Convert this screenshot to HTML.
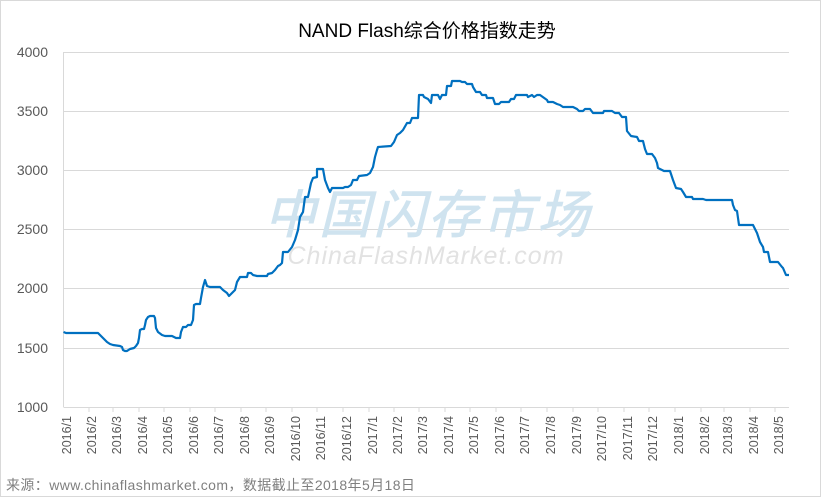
<!DOCTYPE html>
<html><head><meta charset="utf-8"><style>
html,body{margin:0;padding:0;background:#fff}
svg{display:block}
</style></head><body>
<svg width="821" height="497" xmlns="http://www.w3.org/2000/svg" font-family="Liberation Sans, Noto Sans CJK SC, sans-serif">
<rect x="0.5" y="0.5" width="820" height="496" fill="#fff" stroke="#d9d9d9"/>
<text x="427" y="37" font-size="19" text-anchor="middle" fill="#000" font-family="Liberation Sans, Noto Sans CJK SC, sans-serif">NAND Flash综合价格指数走势</text>
<g stroke="#d9d9d9" stroke-width="1">
<line x1="63.5" y1="52.5" x2="789" y2="52.5"/>
<line x1="63.5" y1="111.5" x2="789" y2="111.5"/>
<line x1="63.5" y1="170.5" x2="789" y2="170.5"/>
<line x1="63.5" y1="229.5" x2="789" y2="229.5"/>
<line x1="63.5" y1="288.5" x2="789" y2="288.5"/>
<line x1="63.5" y1="348.5" x2="789" y2="348.5"/>
<line x1="63.5" y1="407.5" x2="789" y2="407.5"/>
<line x1="63.5" y1="52" x2="63.5" y2="407"/>
</g>
<g stroke="#d9d9d9">
<line x1="89" y1="407" x2="89" y2="412"/><line x1="113" y1="407" x2="113" y2="412"/><line x1="139" y1="407" x2="139" y2="412"/><line x1="164" y1="407" x2="164" y2="412"/><line x1="190" y1="407" x2="190" y2="412"/><line x1="215" y1="407" x2="215" y2="412"/><line x1="241" y1="407" x2="241" y2="412"/><line x1="266" y1="407" x2="266" y2="412"/><line x1="292" y1="407" x2="292" y2="412"/><line x1="317" y1="407" x2="317" y2="412"/><line x1="343" y1="407" x2="343" y2="412"/><line x1="369" y1="407" x2="369" y2="412"/><line x1="394" y1="407" x2="394" y2="412"/><line x1="419" y1="407" x2="419" y2="412"/><line x1="445" y1="407" x2="445" y2="412"/><line x1="470" y1="407" x2="470" y2="412"/><line x1="496" y1="407" x2="496" y2="412"/><line x1="521" y1="407" x2="521" y2="412"/><line x1="547" y1="407" x2="547" y2="412"/><line x1="573" y1="407" x2="573" y2="412"/><line x1="598" y1="407" x2="598" y2="412"/><line x1="624" y1="407" x2="624" y2="412"/><line x1="649" y1="407" x2="649" y2="412"/><line x1="675" y1="407" x2="675" y2="412"/><line x1="701" y1="407" x2="701" y2="412"/><line x1="724" y1="407" x2="724" y2="412"/><line x1="750" y1="407" x2="750" y2="412"/><line x1="775" y1="407" x2="775" y2="412"/>
</g>
<g font-size="14" fill="#595959" text-anchor="end">
<text x="48" y="57">4000</text><text x="48" y="116">3500</text><text x="48" y="175">3000</text><text x="48" y="234">2500</text><text x="48" y="293">2000</text><text x="48" y="353">1500</text><text x="48" y="412">1000</text>
</g>
<g font-size="12.5" fill="#595959" text-anchor="end">
<text transform="translate(71,416) rotate(-90)">2016/1</text>
<text transform="translate(96,416) rotate(-90)">2016/2</text>
<text transform="translate(121,416) rotate(-90)">2016/3</text>
<text transform="translate(147,416) rotate(-90)">2016/4</text>
<text transform="translate(172,416) rotate(-90)">2016/5</text>
<text transform="translate(198,416) rotate(-90)">2016/6</text>
<text transform="translate(223,416) rotate(-90)">2016/7</text>
<text transform="translate(249,416) rotate(-90)">2016/8</text>
<text transform="translate(274,416) rotate(-90)">2016/9</text>
<text transform="translate(300,416) rotate(-90)">2016/10</text>
<text transform="translate(325,416) rotate(-90)">2016/11</text>
<text transform="translate(351,416) rotate(-90)">2016/12</text>
<text transform="translate(377,416) rotate(-90)">2017/1</text>
<text transform="translate(402,416) rotate(-90)">2017/2</text>
<text transform="translate(427,416) rotate(-90)">2017/3</text>
<text transform="translate(453,416) rotate(-90)">2017/4</text>
<text transform="translate(478,416) rotate(-90)">2017/5</text>
<text transform="translate(504,416) rotate(-90)">2017/6</text>
<text transform="translate(529,416) rotate(-90)">2017/7</text>
<text transform="translate(555,416) rotate(-90)">2017/8</text>
<text transform="translate(581,416) rotate(-90)">2017/9</text>
<text transform="translate(606,416) rotate(-90)">2017/10</text>
<text transform="translate(632,416) rotate(-90)">2017/11</text>
<text transform="translate(657,416) rotate(-90)">2017/12</text>
<text transform="translate(683,416) rotate(-90)">2018/1</text>
<text transform="translate(709,416) rotate(-90)">2018/2</text>
<text transform="translate(732,416) rotate(-90)">2018/3</text>
<text transform="translate(758,416) rotate(-90)">2018/4</text>
<text transform="translate(783,416) rotate(-90)">2018/5</text>
</g>
<text x="264" y="233" font-size="52" font-style="italic" font-weight="500" fill="#cfe3ef" textLength="325" font-family="Noto Sans CJK SC, sans-serif">中国闪存市场</text>
<text x="426" y="264" font-size="25" font-style="italic" fill="#e2e2e2" text-anchor="middle" letter-spacing="1">ChinaFlashMarket.com</text>
<polyline fill="none" stroke="#0070c0" stroke-width="2.2" stroke-linejoin="round" points="63.5,332 66,333 98,333 101,336 104,339 107,342 110,344 113,345 120,346 122,347 123,350 125,351 127,351 130,349 134,348 136,346 138,343 139,338 140,330 142,329 144,329 145,325 146,320 148,317 150,316 154,316 155,318 156,328 158,332 162,335 165,336 172,336 174,337 176,338 180,338 181,332 183,327 186,327 188,325 191,325 193,320 194,305 196,304 200,304 201,298 203,287 205,280 207,286 210,287 220,287 223,290 227,293 229,296 232,293 235,290 237,282 240,277 247,277 248,273 251,273 253,275 257,276 267,276 268,274 272,273 275,270 278,266 280,265 282,263 283,252 288,252 292,247 295,240 298,230 300,217 303,212 305,197 308,197 311,183 313,178 317,177 317,169 323,169 325,180 328,188 330,192 332,188 343,188 345,187 348,187 351,185 353,180 357,180 359,176 367,175 370,173 373,167 375,157 377,150 378,147 391,146 394,142 397,135 400,133 403,130 407,123 410,123 412,118 418,118 419,95 423,95 424,97 428,99 431,103 432,95 438,95 440,99 442,95 446,95 447,86 451,86 452,81 460,81 462,82 465,82 467,84 472,84 473,87 476,92 480,92 482,95 486,95 487,98 493,98 495,104 499,104 501,102 509,102 511,99 514,99 516,95 527,95 528,97 532,95 534,97 537,95 540,95 547,100 548,102 553,102 557,104 560,105 563,107 565,107 573,107 577,109 579,111 583,111 585,109 590,109 593,113 603,113 604,111 612,111 615,113 619,113 622,117 626,117 627,131 631,136 637,137 639,141 643,141 645,149 647,154 652,154 655,158 657,163 658,168 664,171 670,171 673,180 676,188 681,189 683,192 686,197 692,197 693,199 703,199 706,200 732,200 733,205 735,210 737,211 739,225 753,225 757,233 760,242 763,247 764,252 768,252 770,262 778,262 782,267 783,268 786,275 789,275"/>
<text x="6" y="490" font-size="14" letter-spacing="0.4" fill="#7f7f7f" font-family="Liberation Sans, Noto Sans CJK SC, sans-serif">来源：www.chinaflashmarket.com，数据截止至2018年5月18日</text>
</svg>
</body></html>
